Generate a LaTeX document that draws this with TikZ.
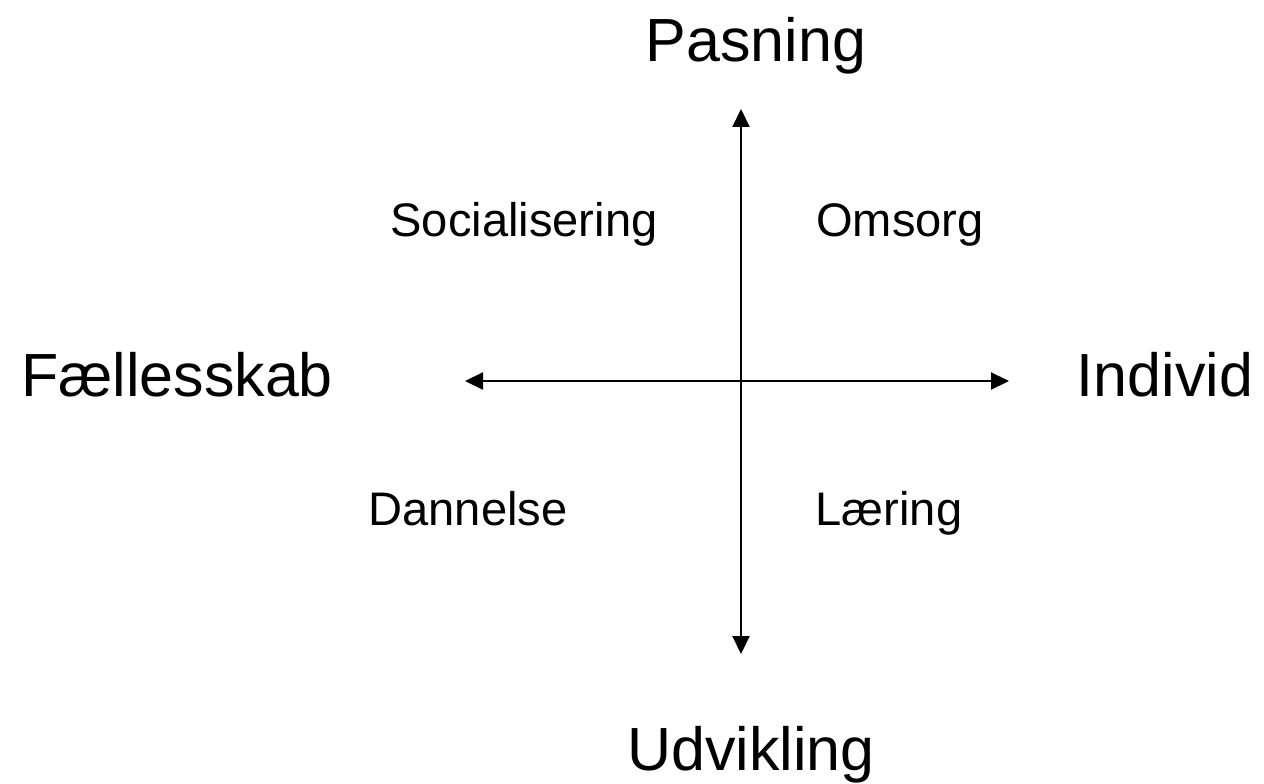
\documentclass[tikz,border=0pt]{standalone}
\usepackage{fontspec}
\setmainfont{Liberation Sans}
\usetikzlibrary{arrows.meta}
\begin{document}
\begin{tikzpicture}[x=0.02cm,y=-0.02cm,
  big/.style={anchor=base,inner sep=0pt,font=\fontsize{34.7pt}{40pt}\selectfont},
  small/.style={anchor=base,inner sep=0pt,font=\fontsize{26.8pt}{32pt}\selectfont},
  axis/.style={line width=1.2pt,{Triangle[length=0.36cm,width=0.34cm]}-{Triangle[length=0.36cm,width=0.34cm]}}]
\useasboundingbox (0,0) rectangle (1264,784);
\node[big] (pas) at (756,62) {Pasning};
\node[big] (udv) at (751,770) {Udvikling};
\node[big] (fael) at (177,396) {Fællesskab};
\node[big] (ind) at (1165,396) {Individ};
\node[small] (soc) at (524,236) {Socialisering};
\node[small] (oms) at (900,236) {Omsorg};
\node[small] (dan) at (468,525) {Dannelse};
\node[small] (lae) at (889,525) {Læring};
\coordinate (top) at (741,109);
\coordinate (bot) at (741,654);
\coordinate (left) at (465,381);
\coordinate (right) at (1009,381);
\draw[axis] (top) -- (bot);
\draw[axis] (left) -- (right);
\end{tikzpicture}
\end{document}
